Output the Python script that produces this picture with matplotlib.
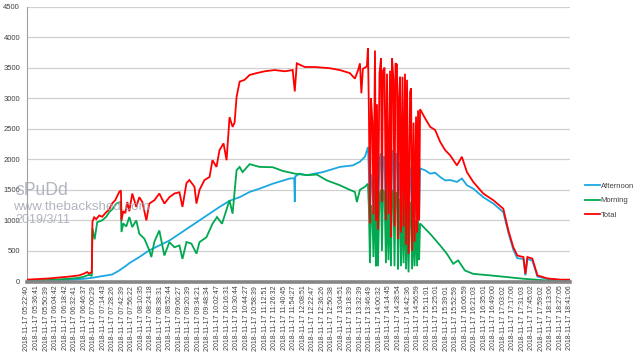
import matplotlib
matplotlib.use("Agg")
import matplotlib.pyplot as plt

# ---- tick labels (category labels on the x axis) ----
tick_labels = [
    "2018-11-17 05:22:40", "2018-11-17 05:36:41", "2018-11-17 05:50:39", "2018-11-17 06:04:42",
    "2018-11-17 06:18:42", "2018-11-17 06:32:41", "2018-11-17 06:46:37", "2018-11-17 07:00:29",
    "2018-11-17 07:14:43", "2018-11-17 07:28:26", "2018-11-17 07:42:39", "2018-11-17 07:56:22",
    "2018-11-17 08:10:35", "2018-11-17 08:24:18", "2018-11-17 08:38:31", "2018-11-17 08:52:44",
    "2018-11-17 09:06:27", "2018-11-17 09:20:39", "2018-11-17 09:34:21", "2018-11-17 09:48:34",
    "2018-11-17 10:02:47", "2018-11-17 10:16:31", "2018-11-17 10:30:44", "2018-11-17 10:44:27",
    "2018-11-17 10:58:39", "2018-11-17 11:12:51", "2018-11-17 11:26:32", "2018-11-17 11:40:45",
    "2018-11-17 11:54:27", "2018-11-17 12:08:51", "2018-11-17 12:22:47", "2018-11-17 12:36:26",
    "2018-11-17 12:50:38", "2018-11-17 13:04:51", "2018-11-17 13:18:39", "2018-11-17 13:32:39",
    "2018-11-17 13:46:49", "2018-11-17 14:00:32", "2018-11-17 14:14:45", "2018-11-17 14:28:54",
    "2018-11-17 14:42:36", "2018-11-17 14:56:59", "2018-11-17 15:11:01", "2018-11-17 15:25:01",
    "2018-11-17 15:39:01", "2018-11-17 15:52:59", "2018-11-17 16:06:59", "2018-11-17 16:21:03",
    "2018-11-17 16:35:01", "2018-11-17 16:49:00", "2018-11-17 17:03:02", "2018-11-17 17:17:00",
    "2018-11-17 17:31:03", "2018-11-17 17:45:02", "2018-11-17 17:59:02", "2018-11-17 18:13:06",
    "2018-11-17 18:27:05", "2018-11-17 18:41:06",
]
y_ticks = [0, 500, 1000, 1500, 2000, 2500, 3000, 3500, 4000, 4500]

# ---- sample positions in the unstable period (label-interval units, shared by all series) ----
burst_x = [35.79, 35.89, 36.0, 36.11, 36.26, 36.37, 36.53, 36.63, 36.74, 36.84, 37.0, 37.16,
           37.26, 37.37, 37.53, 37.68, 37.79, 37.95, 38.11, 38.21, 38.32, 38.47, 38.58, 38.68,
           38.84, 38.95, 39.05, 39.16, 39.26, 39.42, 39.53, 39.68, 39.79, 39.89, 40.05, 40.21,
           40.32, 40.42, 40.58, 40.68, 40.84, 40.95, 41.05, 41.16, 41.26]
burst_total = [3815, 2800, 950, 3000, 2600, 1100, 3780, 1000, 2900, 850, 3400, 3650,
               1300, 3450, 3500, 1000, 3400, 1100, 3450, 720, 3650, 3300, 900, 3570,
               3550, 700, 3000, 3350, 800, 3350, 900, 3400, 600, 3300, 450, 3100,
               3160, 500, 2600, 650, 2700, 800, 2800, 1000, 2820]
burst_morning = [1600, 1200, 300, 1250, 1050, 400, 1550, 250, 1200, 250, 1400, 1500,
                 500, 1500, 1450, 300, 1400, 350, 1450, 250, 1500, 1400, 250, 1450,
                 1450, 200, 1200, 1350, 250, 1350, 300, 1400, 200, 1300, 150, 1250,
                 1300, 200, 1000, 250, 1000, 250, 1000, 350, 950]
burst_afternoon = [2200, 1800, 1000, 1750, 1600, 1000, 2150, 950, 1750, 900, 2000, 2100,
                   1000, 2000, 2050, 950, 2000, 1000, 2050, 900, 2150, 1950, 950, 2100,
                   2050, 900, 1800, 1950, 950, 1950, 1000, 2000, 900, 1950, 900, 1850,
                   1850, 900, 1600, 950, 1700, 950, 1800, 1000, 1850]

# ---- series before / after the unstable period ----
afternoon_x_before = [0, 2.32, 4.42, 6.0, 6.84, 7.58, 8.95, 9.68, 10.42, 10.74, 11.79, 12.84,
                      13.89, 14.95, 16.0, 17.05, 18.11, 19.16, 20.21, 21.26, 22.32, 23.37, 24.42,
                      25.79, 27.58, 28.05, 28.11, 28.16, 28.63, 29.37, 31.05, 32.84, 34.21,
                      34.95, 35.47]
afternoon_y_before = [5, 10, 25, 45, 60, 80, 115, 180, 260, 300, 400, 510,
                      590, 670, 780, 890, 1000, 1110, 1220, 1320, 1380, 1465, 1520,
                      1600, 1685, 1690, 1300, 1720, 1765, 1740, 1790, 1875, 1900,
                      1960, 2040]
afternoon_x_after = [41.79, 42.32, 42.84, 43.37, 43.89, 44.42, 45.13, 45.65, 46.18, 46.84, 47.89,
                     48.95, 50.0, 50.53, 51.05, 51.47, 52.11, 52.32, 52.53, 53.05, 53.58, 54.63,
                     56.0, 57.0]
afternoon_y_after = [1820, 1765, 1780, 1710, 1655, 1660, 1630, 1685, 1575, 1520, 1380,
                     1275, 1135, 800, 520, 380, 370, 100, 370, 340, 80, 40,
                     25, 25]

morning_x_before = [0, 2.32, 4.42, 5.47, 6.0, 6.32, 6.53, 6.8, 6.87, 7.1, 7.37, 7.89, 8.32,
                    8.63, 8.95, 9.37, 9.86, 9.92, 10.11, 10.42, 10.74, 11.05, 11.47, 11.79,
                    12.32, 12.84, 13.05, 13.37, 13.89, 14.42, 14.95, 15.47, 16.0, 16.32, 16.74,
                    17.26, 17.79, 18.11, 18.84, 19.47, 19.95, 20.47, 21.26, 21.58, 22.0, 22.32,
                    22.63, 23.37, 24.42, 25.79, 26.84, 28.11, 29.37, 30.42, 31.47, 32.84, 33.89,
                    34.42, 34.63, 34.95, 35.47]
morning_y_before = [15, 25, 45, 60, 80, 100, 110, 90, 870, 690, 970, 1000, 1060,
                    1135, 1180, 1275, 1300, 810, 950, 900, 1055, 890, 1000, 780,
                    700, 510, 400, 650, 835, 425, 645, 560, 590, 370, 645,
                    620, 455, 645, 725, 945, 1055, 945, 1330, 1110, 1820, 1875,
                    1790, 1920, 1875, 1870, 1810, 1765, 1740, 1750, 1655, 1575, 1500,
                    1465, 1300, 1500, 1550]
morning_x_after = [42.32, 43.37, 44.07, 44.74, 45.26, 45.97, 46.84, 48.63, 52.11, 54.63, 57.0]
morning_y_after = [780, 590, 455, 290, 345, 180, 125, 100, 45, 15, 5]

total_x_before = [0, 2.32, 4.42, 5.47, 6.0, 6.32, 6.53, 6.8, 6.87, 7.05, 7.26, 7.58, 7.89,
                  8.32, 8.63, 8.95, 9.26, 9.68, 9.86, 9.92, 10.1, 10.32, 10.53, 10.74, 11.05,
                  11.47, 11.79, 12.11, 12.53, 12.84, 13.37, 13.89, 14.42, 14.95, 15.47, 16.0,
                  16.32, 16.74, 17.05, 17.58, 17.79, 18.11, 18.63, 19.16, 19.47, 19.89, 20.21,
                  20.63, 20.95, 21.26, 21.58, 21.79, 22.0, 22.32, 22.84, 23.37, 24.11, 24.95,
                  26.0, 27.05, 27.89, 28.11, 28.32, 29.16, 30.21, 31.79, 32.84, 33.89, 34.42,
                  34.74, 34.95, 35.1, 35.26, 35.68]
total_y_before = [30, 50, 80, 100, 130, 155, 130, 150, 980, 1050, 1020, 1080, 1060,
                  1135, 1180, 1280, 1330, 1465, 1490, 1000, 1150, 1120, 1300, 1150, 1440,
                  1220, 1380, 1300, 1000, 1275, 1330, 1440, 1275, 1380, 1440, 1460,
                  1220, 1610, 1660, 1550, 1275, 1500, 1660, 1710, 1985, 1875, 2150,
                  2260, 1985, 2690, 2530, 2600, 3020, 3270, 3300, 3380, 3410, 3440,
                  3460, 3440, 3460, 3110, 3570, 3510, 3510, 3490, 3460, 3410, 3320,
                  3450, 3570, 3080, 3480, 3520]
total_x_after = [41.79, 42.32, 42.84, 43.37, 43.89, 44.42, 45.13, 45.65, 46.18, 46.84, 47.89,
                 48.95, 50.0, 50.53, 51.05, 51.47, 52.11, 52.32, 52.53, 53.05, 53.58, 54.63,
                 56.0, 57.0]
total_y_after = [2670, 2530, 2480, 2285, 2150, 2065, 1900, 2040, 1790, 1630, 1440,
                 1330, 1190, 835, 560, 425, 400, 125, 400, 375, 100, 50,
                 30, 30]

series_names = ["Afternoon", "Morning", "Total"]
series_colors = ["#1BA8E0", "#00A850", "#FF0000"]

plt.rcParams['font.family'] = ['Liberation Sans', 'DejaVu Sans']

fig = plt.figure(figsize=(6.4, 3.57), dpi=100)
ax = fig.add_axes([27 / 640, 1 - 281.5 / 357, 543 / 640, 275 / 357])

all_x = [afternoon_x_before + burst_x + afternoon_x_after,
         morning_x_before + burst_x + morning_x_after,
         total_x_before + burst_x + total_x_after]
all_y = [afternoon_y_before + burst_afternoon + afternoon_y_after,
         morning_y_before + burst_morning + morning_y_after,
         total_y_before + burst_total + total_y_after]

for xs, ys, name, col in zip(all_x, all_y, series_names, series_colors):
    ax.plot(xs, ys, color=col, lw=1.3, label=name, solid_joinstyle='miter', zorder=3)

ax.set_xlim(0, len(tick_labels) - 1)
ax.set_ylim(0, 4500)
ax.set_yticks(y_ticks)
ax.set_yticklabels([str(v) for v in y_ticks], fontsize=5.5, color='#404040')
ax.set_xticks(range(len(tick_labels)))
ax.set_xticklabels(tick_labels, rotation=90, fontsize=5, color='#404040')
ax.tick_params(axis='y', length=0, pad=5)
ax.tick_params(axis='x', length=0, pad=3)
ax.grid(axis='y', color='#D0D0D0', lw=0.9, zorder=0)
for s in ['top', 'right']:
    ax.spines[s].set_visible(False)
ax.spines['left'].set_color('#A0A0A0')
ax.spines['left'].set_linewidth(0.8)
ax.spines['bottom'].set_color('#868686')
ax.spines['bottom'].set_linewidth(2.6)
ax.spines['bottom'].set_zorder(4)

leg = fig.legend(loc='center left', bbox_to_anchor=(585 / 640, 1 - 200.5 / 357), frameon=False,
                 fontsize=5.5, handlelength=2.0, handletextpad=0.05, labelspacing=0.95,
                 borderaxespad=0, borderpad=0)
for t in leg.get_texts():
    t.set_color('#404040')

wm = '#A4A8B4'
fig.text(15 / 640, 1 - 195 / 357, "sPuDd", fontsize=12.7, color=wm, alpha=0.85, zorder=10)
fig.text(13 / 640, 1 - 210 / 357, "www.thebackshed.com", fontsize=9.6, color=wm, alpha=0.85, zorder=10)
fig.text(15 / 640, 1 - 223 / 357, "2019/3/11", fontsize=9, color=wm, alpha=0.85, zorder=10)

fig.savefig("out.png", dpi=100)
